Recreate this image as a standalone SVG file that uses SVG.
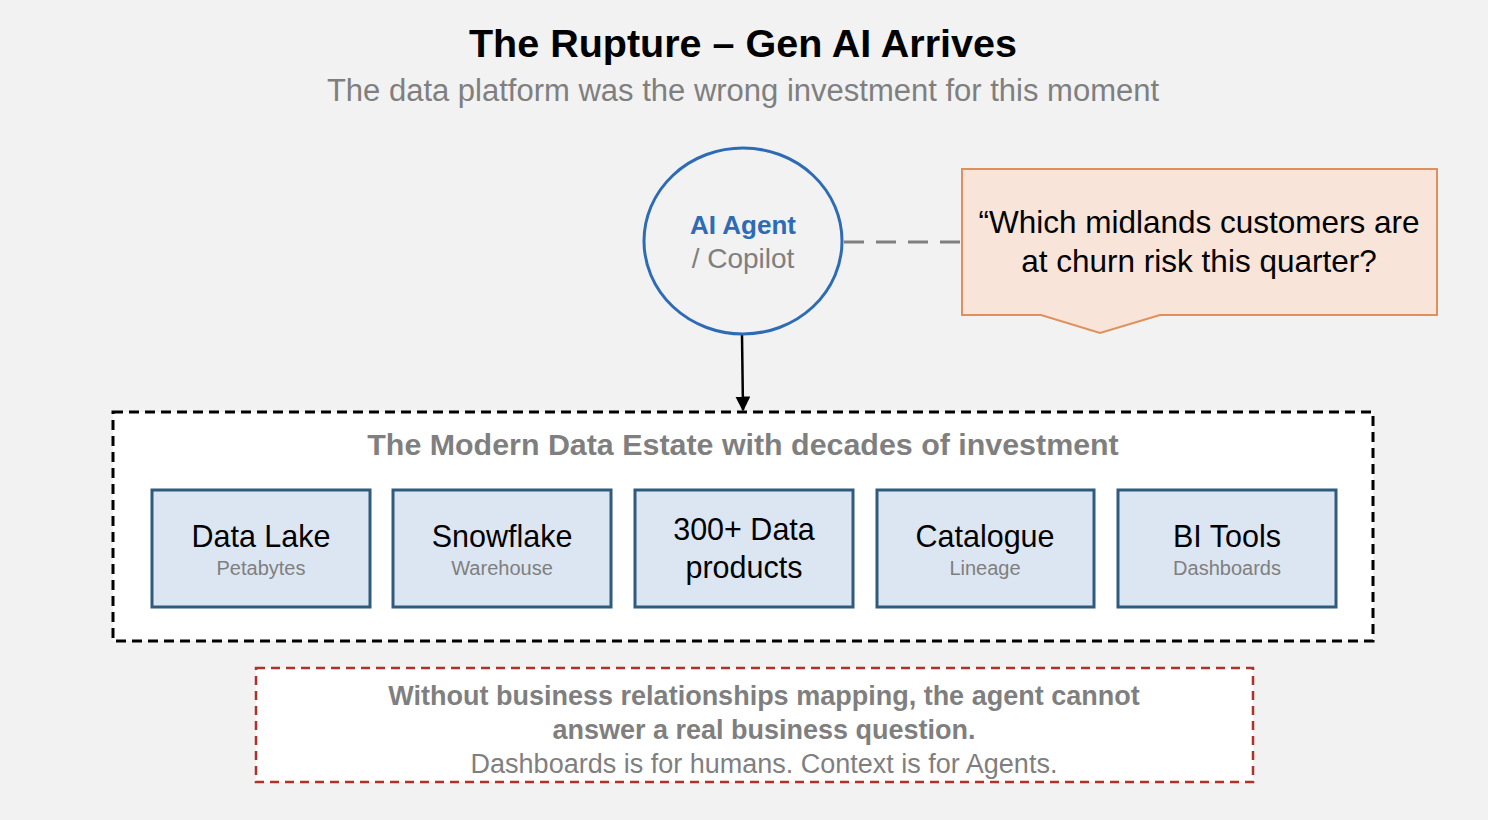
<svg xmlns="http://www.w3.org/2000/svg" width="1488" height="820" viewBox="0 0 1488 820">
<defs>
<style>
text{font-family:"Liberation Sans",Arial,sans-serif;text-anchor:middle}
.title{font-size:39.5px;font-weight:bold;fill:#000}
.sub{font-size:31px;fill:#7f7f7f}
.box{fill:#dce6f2;stroke:#2f5b7c;stroke-width:3}
.bt{font-size:30.5px;fill:#000}
.bs{font-size:20px;fill:#7f7f7f}
.note{font-size:27px;fill:#7f7f7f}
</style>
<marker id="arr" viewBox="0 0 10 10" refX="9" refY="5" markerWidth="6" markerHeight="6" orient="auto" markerUnits="strokeWidth">
<path d="M0,0 L10,5 L0,10 z" fill="#000"/>
</marker>
</defs>
<rect width="1488" height="820" fill="#f2f2f2"/>
<g id="header">
<text class="title" x="743" y="57">The Rupture – Gen AI Arrives</text>
<text class="sub" x="743" y="101">The data platform was the wrong investment for this moment</text>
</g>
<g id="connectors">
<line x1="844" y1="242" x2="962" y2="242" stroke="#808080" stroke-width="3" stroke-dasharray="20,12"/>
<line x1="742" y1="335" x2="743" y2="410" stroke="#000" stroke-width="2.5" marker-end="url(#arr)"/>
</g>
<g id="agent">
<ellipse cx="743" cy="241" rx="99" ry="93" fill="#f2f2f2" stroke="#2e6bb5" stroke-width="3"/>
<text x="743" y="234" font-size="26" font-weight="bold" fill="#2e6bb5">AI Agent</text>
<text x="743" y="268" font-size="28" fill="#7f7f7f">/ Copilot</text>
</g>
<g id="question">
<path d="M962,169 H1437 V315 H1160 L1100,333 L1041,315 H962 Z" fill="#f8e4d8" stroke="#e0905a" stroke-width="2"/>
<text x="1199" y="233" font-size="31.5" fill="#000">“Which midlands customers are</text>
<text x="1199" y="272" font-size="31.5" fill="#000">at churn risk this quarter?</text>
</g>
<g id="estate">
<rect x="113" y="412" width="1260" height="229" fill="#fff" stroke="#000" stroke-width="3" stroke-dasharray="10,6"/>
<text x="743" y="455" font-size="30.4" font-weight="bold" fill="#7f7f7f">The Modern Data Estate with decades of investment</text>
</g>
<g id="datalake">
<rect class="box" x="152" y="490" width="218" height="117"/>
<text class="bt" x="261" y="547">Data Lake</text>
<text class="bs" x="261" y="575">Petabytes</text>
</g>
<g id="snowflake">
<rect class="box" x="393" y="490" width="218" height="117"/>
<text class="bt" x="502" y="547">Snowflake</text>
<text class="bs" x="502" y="575">Warehouse</text>
</g>
<g id="dataproducts">
<rect class="box" x="635" y="490" width="218" height="117"/>
<text class="bt" x="744" y="540">300+ Data</text>
<text class="bt" x="744" y="578">products</text>
</g>
<g id="catalogue">
<rect class="box" x="877" y="490" width="217" height="117"/>
<text class="bt" x="985" y="547">Catalogue</text>
<text class="bs" x="985" y="575">Lineage</text>
</g>
<g id="bitools">
<rect class="box" x="1118" y="490" width="218" height="117"/>
<text class="bt" x="1227" y="547">BI Tools</text>
<text class="bs" x="1227" y="575">Dashboards</text>
</g>
<g id="warning">
<rect x="256" y="668" width="997" height="114" fill="#fff" stroke="#b0302c" stroke-width="2.5" stroke-dasharray="9,6"/>
<text class="note" x="764" y="705" font-weight="bold">Without business relationships mapping, the agent cannot</text>
<text class="note" x="764" y="739" font-weight="bold">answer a real business question.</text>
<text class="note" x="764" y="773" font-size="27.5">Dashboards is for humans. Context is for Agents.</text>
</g>
</svg>
